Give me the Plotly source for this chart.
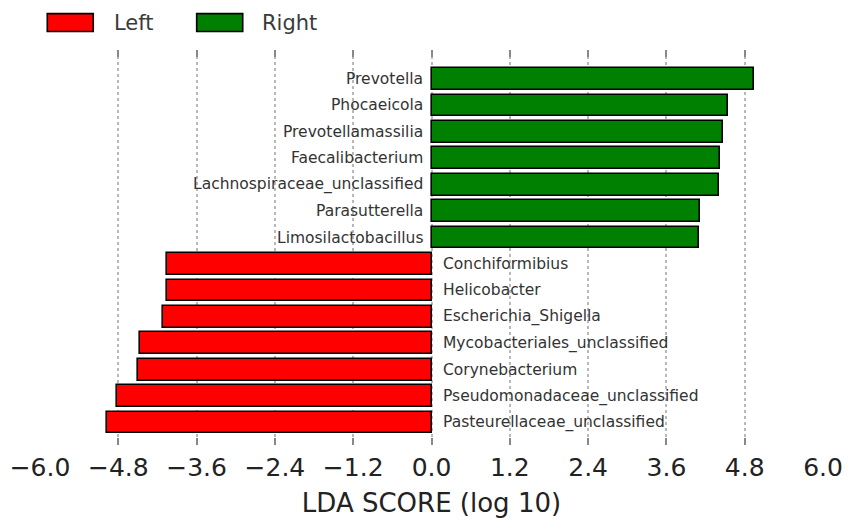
import plotly.graph_objects as go

# LDA scores, bottom to top
taxa = [
    "Pasteurellaceae_unclassified",
    "Pseudomonadaceae_unclassified",
    "Corynebacterium",
    "Mycobacteriales_unclassified",
    "Escherichia_Shigella",
    "Helicobacter",
    "Conchiformibius",
    "Limosilactobacillus",
    "Parasutterella",
    "Lachnospiraceae_unclassified",
    "Faecalibacterium",
    "Prevotellamassilia",
    "Phocaeicola",
    "Prevotella",
]
lda_score = [-4.97, -4.82, -4.50, -4.47, -4.12, -4.05, -4.05,
             4.10, 4.11, 4.40, 4.42, 4.46, 4.54, 4.95]
groups = ["Left"] * 7 + ["Right"] * 7
tick_vals = [-6.0, -4.8, -3.6, -2.4, -1.2, 0.0, 1.2, 2.4, 3.6, 4.8, 6.0]
tick_text = [("\u2212%.1f" % abs(v)) if v < 0 else "%.1f" % v for v in tick_vals]

group_colors = {"Left": "#ff0000", "Right": "#008000"}
FONT = "DejaVu Sans"

fig = go.Figure()
fig.add_trace(
    go.Bar(
        x=lda_score,
        y=taxa,
        orientation="h",
        width=0.82,
        marker=dict(
            color=[group_colors[g] for g in groups],
            line=dict(color="black", width=1.6),
        ),
        showlegend=False,
        hoverinfo="x+y",
    )
)

# taxon names next to the zero line, on the opposite side of the bar
annotations = []
for name, score in zip(taxa, lda_score):
    annotations.append(
        dict(
            x=0, y=name, xref="x", yref="y",
            text=name, showarrow=False,
            xanchor="right" if score > 0 else "left",
            xshift=-7 if score > 0 else 9,
            font=dict(family=FONT, size=15.5, color="#333333"),
        )
    )

# hand-drawn legend with wide patches
shapes = []
legend_items = [("Left", 0.0093, 0.068, 0.0916), ("Right", 0.2001, 0.2589, 0.281)]
for label, x0, x1, tx in legend_items:
    shapes.append(
        dict(
            type="rect", xref="paper", yref="paper",
            x0=x0, x1=x1, y0=1.047, y1=1.092,
            fillcolor=group_colors[label],
            line=dict(color="black", width=1.6),
        )
    )
    annotations.append(
        dict(
            x=tx, y=1.069, xref="paper", yref="paper",
            text=label, showarrow=False, xanchor="left", yanchor="middle",
            font=dict(family=FONT, size=21, color="#3a3a3a"),
        )
    )

# the page body adds an 8px margin all round; keep the figure inside the
# window so no scrollbars appear
fig.update_layout(
    width=835,
    height=511,
    margin=dict(l=32, r=20, t=42, b=74),
    paper_bgcolor="white",
    plot_bgcolor="white",
    font=dict(family=FONT, color="#222222"),
    annotations=annotations,
    shapes=shapes,
    bargap=0,
)
fig.update_xaxes(
    range=[-6.0, 6.0],
    automargin=False,
    tickvals=tick_vals,
    ticktext=tick_text,
    tickfont=dict(family=FONT, size=25, color="#222222"),
    ticks="inside",
    ticklen=7,
    tickwidth=1.5,
    tickcolor="#888888",
    mirror="ticks",
    showline=True,
    linecolor="rgba(0,0,0,0)",
    showgrid=True,
    gridcolor="#b8b8b8",
    gridwidth=1.5,
    griddash="dot",
    zeroline=False,
    title=dict(
        text="LDA SCORE (log 10)",
        font=dict(family=FONT, size=26, color="#222222"),
        standoff=12,
    ),
)
fig.update_yaxes(
    type="category",
    categoryorder="array",
    categoryarray=taxa,
    range=[-0.85, 14.1],
    automargin=False,
    showticklabels=False,
    ticks="",
    showgrid=False,
    zeroline=False,
    showline=False,
)

fig.write_html("out.html")
